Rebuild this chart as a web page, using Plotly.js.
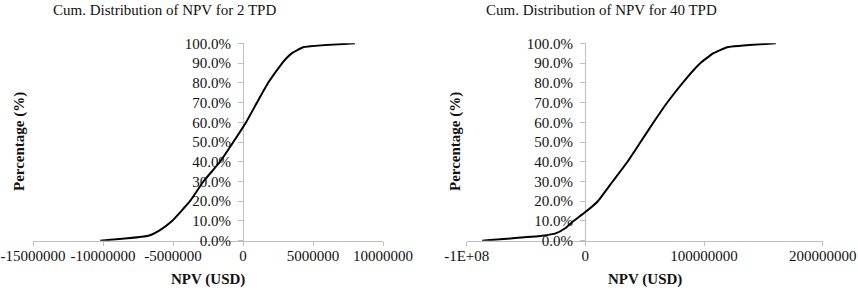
<!DOCTYPE html>
<html>
<head>
<meta charset="utf-8">
<script src="https://cdn.plot.ly/plotly-3.0.1.min.js"></script>
<style>html,body{margin:0;padding:0;background:#fff;}#chart{width:858px;height:290px;}</style>
</head>
<body>
<div id="chart"></div>
<script>
// Left chart: 2 TPD (NPV in USD, cumulative fraction)
const npv2TPD = [-10200000, -6760000, -5930000, -5070000, -3790000, -2830000, -1640000, -690000, 220000, 1000000, 1800000, 2800000, 3500000, 4300000, 8000000];
const cum2TPD = [0, 0.025, 0.054, 0.10, 0.20, 0.30, 0.40, 0.50, 0.60, 0.70, 0.80, 0.90, 0.95, 0.98, 1.00];

// Right chart: 40 TPD
const npv40TPD = [-87000000, -36500000, -25000000, -17000000, -10000000, 0, 10500000, 23000000, 35500000, 46500000, 57500000, 69000000, 82000000, 97000000, 108000000, 119600000, 160500000];
const cum40TPD = [0, 0.025, 0.037, 0.063, 0.10, 0.145, 0.20, 0.30, 0.40, 0.50, 0.60, 0.70, 0.80, 0.90, 0.95, 0.98, 1.00];

const yTickVals = [0, 0.1, 0.2, 0.3, 0.4, 0.5, 0.6, 0.7, 0.8, 0.9, 1.0];

const xTickVals2 = [-15000000, -10000000, -5000000, 0, 5000000, 10000000];
const xTickText2 = ["-15000000", "-10000000", "-5000000", "0", "5000000", "10000000"];
const xTickVals40 = [-100000000, 0, 100000000, 200000000];
const xTickText40 = ["-1E+08", "0", "100000000", "200000000"];

const titles = ["Cum. Distribution of NPV for 2 TPD", "Cum. Distribution of NPV for 40 TPD"];
const xTitle = "NPV (USD)";
const yTitle = "Percentage (%)";

const W = 858, H = 290;
const px = v => v / W;
const py = v => 1 - v / H;

const fam = "Liberation Serif";
const font = {family: fam, size: 15, color: "#111"};
const axisColor = "#bfbfbf";

const traces = [
  {x: npv2TPD, y: cum2TPD, xaxis: "x", yaxis: "y", type: "scatter", mode: "lines",
   line: {color: "#000", width: 2, shape: "spline", smoothing: 0.4}, cliponaxis: false, hoverinfo: "none"},
  {x: npv40TPD, y: cum40TPD, xaxis: "x2", yaxis: "y2", type: "scatter", mode: "lines",
   line: {color: "#000", width: 2, shape: "spline", smoothing: 0.4}, cliponaxis: false, hoverinfo: "none"}
];

function xAx(domain, range, vals, text, anchor) {
  return {domain: domain, range: range, anchor: anchor, tickmode: "array", tickvals: vals, ticktext: text,
    showline: true, linecolor: axisColor, linewidth: 1, ticks: "outside", ticklen: 4, tickcolor: axisColor,
    ticklabelstandoff: -3,
    showgrid: false, zeroline: false, tickfont: font, layer: "below traces", fixedrange: true};
}
function yAx(domain, pos) {
  return {domain: domain, range: [0, 1], anchor: "free", position: pos, tickmode: "array", tickvals: yTickVals,
    tickformat: ".1%", showline: true, linecolor: axisColor, linewidth: 1, ticks: "outside", ticklen: 5,
    ticklabelstandoff: 4,
    tickcolor: axisColor, showgrid: false, zeroline: false, tickfont: font, layer: "below traces", fixedrange: true};
}

const yDom = [py(240.7), py(43.3)];

const layout = {
  width: W, height: H,
  margin: {l: 0, r: 0, t: 0, b: 0},
  paper_bgcolor: "#fff", plot_bgcolor: "rgba(0,0,0,0)",
  font: font,
  showlegend: false,
  xaxis: xAx([px(33), px(383)], [-15000000, 10000000], xTickVals2, xTickText2, "y"),
  yaxis: yAx(yDom, px(243)),
  xaxis2: xAx([px(466.7), px(822.7)], [-100000000, 200000000], xTickVals40, xTickText40, "y2"),
  yaxis2: yAx(yDom, px(585)),
  annotations: [
    {text: titles[0], xref: "paper", yref: "paper", x: px(164.7), y: py(9.5), xanchor: "center", yanchor: "middle", showarrow: false, font: font},
    {text: titles[1], xref: "paper", yref: "paper", x: px(601.3), y: py(9.5), xanchor: "center", yanchor: "middle", showarrow: false, font: font},
    {text: "<b>" + xTitle + "</b>", xref: "paper", yref: "paper", x: px(208.3), y: py(279), xanchor: "center", yanchor: "middle", showarrow: false, font: font},
    {text: "<b>" + xTitle + "</b>", xref: "paper", yref: "paper", x: px(644.5), y: py(279), xanchor: "center", yanchor: "middle", showarrow: false, font: font},
    {text: "<b>" + yTitle + "</b>", xref: "paper", yref: "paper", x: px(19), y: py(142), xanchor: "center", yanchor: "middle", textangle: -90, showarrow: false, font: font},
    {text: "<b>" + yTitle + "</b>", xref: "paper", yref: "paper", x: px(455), y: py(142), xanchor: "center", yanchor: "middle", textangle: -90, showarrow: false, font: font}
  ]
};

Plotly.newPlot("chart", traces, layout, {staticPlot: true, displayModeBar: false});
</script>
</body>
</html>
